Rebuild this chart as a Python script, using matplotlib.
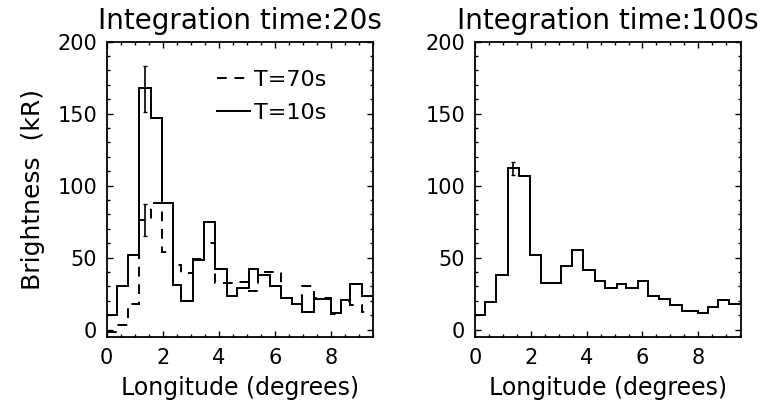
import matplotlib
matplotlib.use('Agg')
import matplotlib.pyplot as plt
from matplotlib.lines import Line2D
from matplotlib.ticker import MultipleLocator

# longitude bin edges (degrees), shared by all profiles
edges = [0.0, 0.37, 0.77, 1.17, 1.57, 1.97, 2.36, 2.67, 3.07, 3.49, 3.88, 4.29,
         4.67, 5.08, 5.40, 5.83, 6.21, 6.61, 6.99, 7.40, 8.0, 8.36, 8.69, 9.1, 9.55]

# 20 s integration: brightness (kR) for two exposure times
b20_t10 = [10, 30, 52, 168, 147, 88, 31, 20, 48, 75, 42, 23,
           29, 42, 38, 30.5, 22, 18, 12.5, 21.5, 11.5, 20.5, 31.5, 23]
b20_t70 = [-2, 3, 18, 76, 88, 54, 45, 39, 49, 60, 32, 32,
           33, 27, 40, 40, 22, 18, 30, 22, 11, 20, 17, 12]

# 100 s integration
b100 = [10, 19, 38, 112.5, 107, 51.5, 32, 32, 44, 55, 41.5, 34,
        29, 31.5, 29, 34, 23.5, 21.5, 17, 13, 11.5, 15.5, 20.5, 18]

# error bars at the peak bin
err_x = 1.37
err20_t10 = (167, 16)
err20_t70 = (76, 11)
err100 = (112, 4.6)

W, H = 768, 412
fig = plt.figure(figsize=(W / 100, H / 100), dpi=100)
ax1 = fig.add_axes([106.7 / W, 1 - 336.7 / H, 266.6 / W, 295 / H])
ax2 = fig.add_axes([475 / W, 1 - 336.7 / H, 265.7 / W, 295 / H])

LW = 1.4
FS = 15

for ax in (ax1, ax2):
    ax.set_xlim(0, 9.52)
    ax.set_ylim(-5, 200)
    ax.xaxis.set_major_locator(MultipleLocator(2))
    ax.xaxis.set_minor_locator(MultipleLocator(0.5))
    ax.yaxis.set_major_locator(MultipleLocator(50))
    ax.yaxis.set_minor_locator(MultipleLocator(10))
    ax.tick_params(which='both', direction='in', top=True, right=True,
                   width=1.0, labelsize=FS)
    ax.tick_params(which='major', length=4.5)
    ax.tick_params(which='minor', length=2.2)
    ax.tick_params(axis='x', pad=8)
    ax.tick_params(axis='y', pad=7)
    for s in ax.spines.values():
        s.set_linewidth(1.3)
    ax.set_xlabel('Longitude (degrees)', fontsize=17, labelpad=6)

# ── left: 20 s ──
ax1.stairs(b20_t70, edges, baseline=None, color='k', lw=LW,
           linestyle=(0, (5, 4)))
ax1.stairs(b20_t10, edges, baseline=None, color='k', lw=LW)
for yv, ye in (err20_t10, err20_t70):
    ax1.errorbar(err_x, yv, yerr=ye, fmt='none', ecolor='k',
                 elinewidth=1.2, capsize=1.5)
ax1.set_title('Integration time:20s', fontsize=20, pad=9)
ax1.set_ylabel('Brightness  (kR)', fontsize=18, labelpad=9)

handles = [Line2D([], [], color='k', lw=LW, linestyle=(0, (5, 4))),
           Line2D([], [], color='k', lw=LW)]
ax1.legend(handles, ['T=70s', 'T=10s'], loc='upper left',
           bbox_to_anchor=(0.415, 0.905), frameon=False, fontsize=16,
           handlelength=1.45, handletextpad=0.2, labelspacing=0.6,
           borderpad=0, borderaxespad=0)

# ── right: 100 s ──
ax2.stairs(b100, edges, baseline=None, color='k', lw=LW)
ax2.errorbar(err_x, err100[0], yerr=err100[1], fmt='none', ecolor='k',
             elinewidth=1.2, capsize=1.5)
ax2.set_title('Integration time:100s', fontsize=20, pad=9)

fig.savefig('out.png', dpi=100, facecolor='white')
